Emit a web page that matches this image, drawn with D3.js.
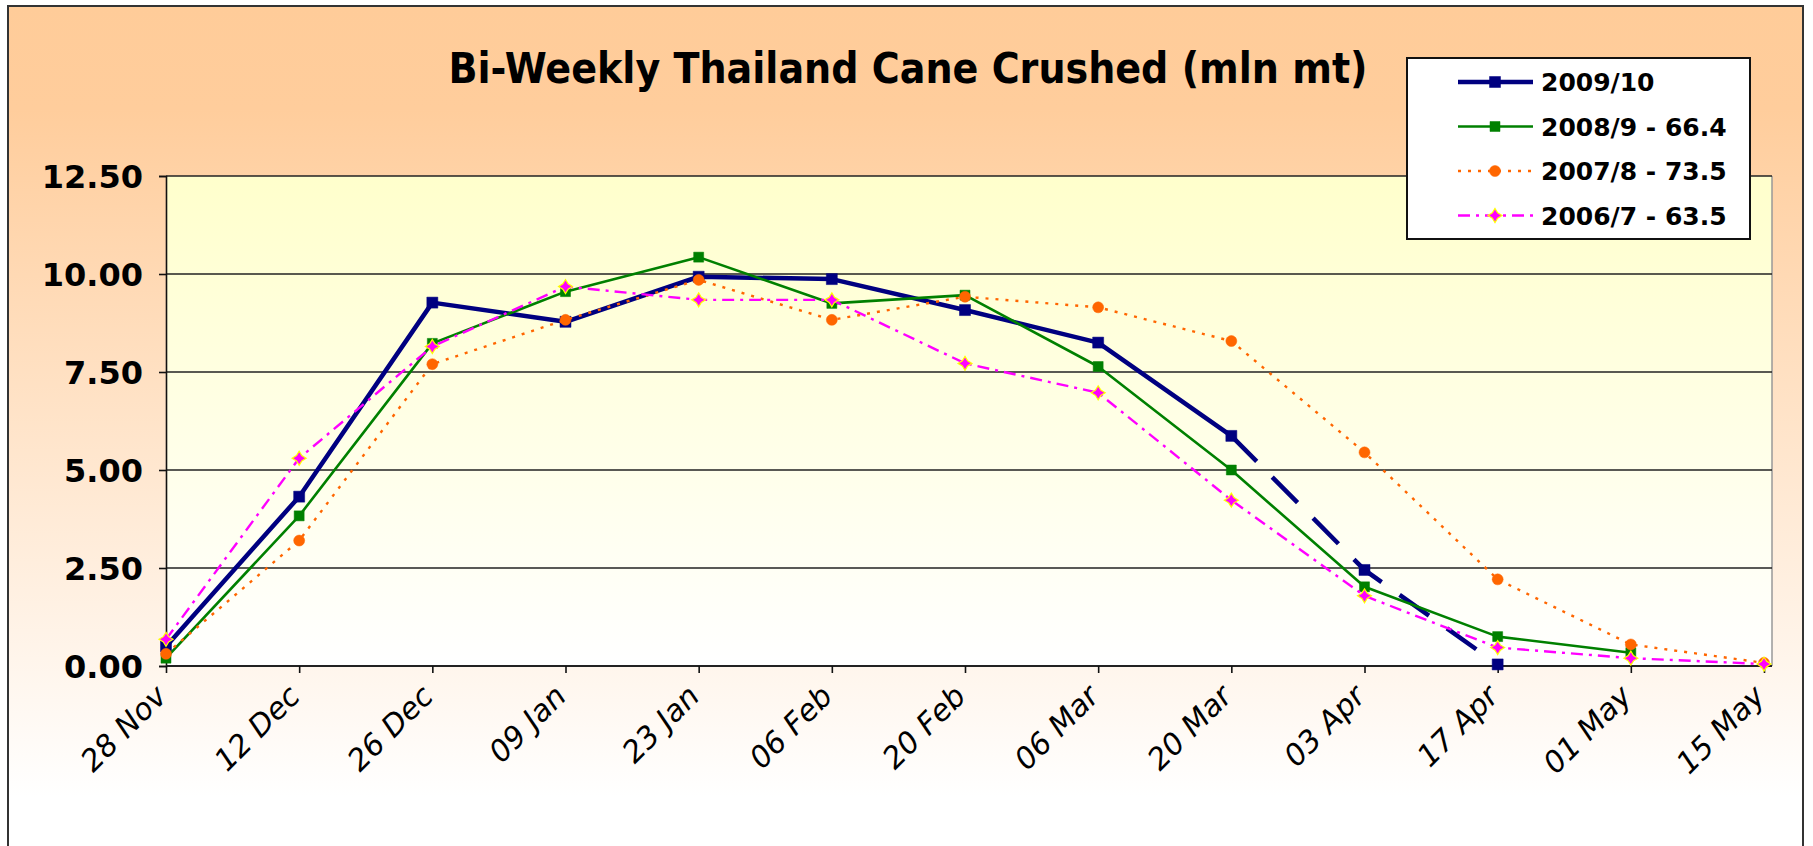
<!DOCTYPE html>
<html>
<head>
<meta charset="utf-8">
<script src="https://cdn.jsdelivr.net/npm/d3@7"></script>
<style>
	body { margin: 0; background: #fff; }
	svg { display: block; }
</style>
</head>
<body>
<svg id="chart" width="1813" height="846" viewBox="0 0 1813 846"></svg>
<script>

// values (mln mt, bi-weekly)
const CATEGORIES = ['28 Nov', '12 Dec', '26 Dec', '09 Jan', '23 Jan', '06 Feb', '20 Feb',
	'06 Mar', '20 Mar', '03 Apr', '17 Apr', '01 May', '15 May'];
const Y_TICKS = [0, 2.5, 5, 7.5, 10, 12.5];

const S_2009 = [0.50, 4.32, 9.27, 8.78, 9.93, 9.87, 9.08, 8.25, 5.87, 2.45, 0.04, null, null];
const S_2008 = [0.20, 3.83, 8.23, 9.55, 10.43, 9.25, 9.46, 7.64, 5.00, 2.02, 0.75, 0.34, null];
const S_2007 = [0.31, 3.20, 7.70, 8.83, 9.85, 8.83, 9.42, 9.15, 8.29, 5.45, 2.21, 0.55, 0.08];
const S_2006 = [0.68, 5.30, 8.15, 9.68, 9.34, 9.34, 7.72, 6.97, 4.23, 1.79, 0.47, 0.20, 0.05];

const SERIES_NAMES = ['2009/10', '2008/9 - 66.4', '2007/8 - 73.5', '2006/7 - 63.5'];
// 2009/10 turns into a dashed (estimate) line from this week on
const ESTIMATE_FROM = '20 Mar';

const TITLE = 'Bi-Weekly Thailand Cane Crushed (mln mt)';

// 4 pointed star, like the excel marker
const symbolStar4 = {
	draw(context, size) {
		const r = Math.sqrt(size) / 2;
		const k = r * 0.38;
		context.moveTo(0, -r);
		context.lineTo(k, -k);
		context.lineTo(r, 0);
		context.lineTo(k, k);
		context.lineTo(0, r);
		context.lineTo(-k, k);
		context.lineTo(-r, 0);
		context.lineTo(-k, -k);
		context.closePath();
	}
};

function whenDocumentLoaded(action) {
	if (document.readyState === "loading") {
		document.addEventListener("DOMContentLoaded", action);
	} else {
		action();
	}
}

class CanePlot {

	constructor(svg_element_id) {
		this.svg = d3.select('#' + svg_element_id);

		const plot = {left: 166, right: 1772, top: 176, bottom: 666};
		const last_x = 1764; // last category sits a little inside the plot box

		const defs = this.svg.append('defs');
		const bg = defs.append('linearGradient').attr('id', 'bg_grad')
			.attr('x1', 0).attr('y1', 0).attr('x2', 0).attr('y2', 1);
		bg.append('stop').attr('offset', '0%').attr('stop-color', '#FFCC99');
		bg.append('stop').attr('offset', '12%').attr('stop-color', '#FFCD9C');
		bg.append('stop').attr('offset', '92%').attr('stop-color', '#FFFFFF');
		const pg = defs.append('linearGradient').attr('id', 'plot_grad')
			.attr('x1', 0).attr('y1', 0).attr('x2', 0).attr('y2', 1);
		pg.append('stop').attr('offset', '0%').attr('stop-color', '#FFFFCC');
		pg.append('stop').attr('offset', '100%').attr('stop-color', '#FFFFFF');

		// chart area
		this.svg.append('rect')
			.attr('x', 8).attr('y', 6)
			.attr('width', 1795).attr('height', 860)
			.attr('fill', 'url(#bg_grad)')
			.attr('stroke', '#333').attr('stroke-width', 2);

		// plot area
		this.svg.append('rect')
			.attr('x', plot.left).attr('y', plot.top)
			.attr('width', plot.right - plot.left).attr('height', plot.bottom - plot.top)
			.attr('fill', 'url(#plot_grad)');
		this.svg.append('line')
			.attr('x1', plot.right).attr('x2', plot.right)
			.attr('y1', plot.top).attr('y2', plot.bottom)
			.attr('stroke', '#999').attr('stroke-width', 1.5);

		const x = d3.scalePoint()
			.domain(CATEGORIES)
			.range([plot.left, last_x]);

		const y = d3.scaleLinear()
			.domain([0, 12.5])
			.range([plot.bottom, plot.top]);

		// horizontal gridlines
		this.svg.append('g')
			.selectAll('line')
			.data(Y_TICKS.filter(d => d > 0))
			.enter()
				.append('line')
				.attr('x1', plot.left).attr('x2', plot.right)
				.attr('y1', d => y(d)).attr('y2', d => y(d))
				.attr('stroke', '#222').attr('stroke-width', 1.6);

		// y axis
		const y_axis = this.svg.append('g')
			.attr('transform', `translate(${plot.left},0)`)
			.call(d3.axisLeft(y).tickValues(Y_TICKS).tickFormat(d3.format('.2f')).tickSizeOuter(0).tickSize(7).tickPadding(16));
		y_axis.select('.domain').attr('stroke', '#111').attr('stroke-width', 1.6);
		y_axis.selectAll('.tick line').attr('stroke', '#111').attr('stroke-width', 1.6);
		y_axis.selectAll('text')
			.attr('fill', '#000')
			.style('font-family', '"DejaVu Sans", Verdana, sans-serif')
			.style('font-weight', 'bold')
			.style('font-size', '32px')
			.attr('dy', '0.36em');

		// x axis
		const x_axis = this.svg.append('g')
			.attr('transform', `translate(0,${plot.bottom})`)
			.call(d3.axisBottom(x).tickSizeOuter(0).tickSize(7));
		x_axis.select('.domain')
			.attr('d', `M${plot.left},0H${plot.right}`)
			.attr('stroke', '#222').attr('stroke-width', 2.2);
		x_axis.selectAll('.tick line').attr('stroke', '#111').attr('stroke-width', 1.6);
		x_axis.selectAll('text')
			.attr('fill', '#000')
			.attr('text-anchor', 'end')
			.attr('x', 0).attr('y', 0).attr('dy', 0)
			.attr('transform', 'translate(2,32) rotate(-45)')
			.style('font-family', '"DejaVu Sans", Verdana, sans-serif')
			.style('font-style', 'italic')
			.style('font-size', '30px');

		// series
		const est_index = CATEGORIES.indexOf(ESTIMATE_FROM);
		const series = [
			{name: SERIES_NAMES[0], values: S_2009, color: '#000080', width: 4.5, dash: null, marker: 'square', size: 11},
			{name: SERIES_NAMES[1], values: S_2008, color: '#008000', width: 2.6, dash: null, marker: 'square', size: 10},
			{name: SERIES_NAMES[2], values: S_2007, color: '#FF6600', width: 2.4, dash: '3,7', marker: 'circle', size: 11},
			{name: SERIES_NAMES[3], values: S_2006, color: '#FF00FF', width: 2.4, dash: '12,6,3,6', marker: 'star', size: 14}
		];

		const line_gen = d3.line()
			.defined(d => d.v !== null)
			.x(d => x(d.c))
			.y(d => y(d.v));

		const symbol_of = function(s) {
			if (s.marker === 'square') return d3.symbol().type(d3.symbolSquare).size(s.size * s.size);
			if (s.marker === 'circle') return d3.symbol().type(d3.symbolCircle).size(Math.PI * s.size * s.size / 4);
			return d3.symbol().type(symbolStar4).size(s.size * s.size);
		};

		series.forEach((s, si) => {
			const pts = s.values.map((v, i) => ({c: CATEGORIES[i], v: v, i: i}));
			const g = this.svg.append('g').classed('series', true);

			if (si === 0) {
				g.append('path')
					.attr('d', line_gen(pts.filter(p => p.i <= est_index)))
					.attr('fill', 'none').attr('stroke', s.color).attr('stroke-width', s.width)
					.attr('stroke-linejoin', 'round');
				g.append('path')
					.attr('d', line_gen(pts.filter(p => p.i >= est_index)))
					.attr('fill', 'none').attr('stroke', s.color).attr('stroke-width', s.width)
					.attr('stroke-dasharray', '36,22');
			} else {
				g.append('path')
					.attr('d', line_gen(pts))
					.attr('fill', 'none').attr('stroke', s.color).attr('stroke-width', s.width)
					.attr('stroke-dasharray', s.dash)
					.attr('stroke-linejoin', 'round');
			}

			const sym = symbol_of(s);
			g.selectAll('path.marker')
				.data(pts.filter(p => p.v !== null))
				.enter()
					.append('path')
					.classed('marker', true)
					.attr('d', sym)
					.attr('transform', p => `translate(${x(p.c)},${y(p.v)})`)
					.attr('fill', s.color)
					.attr('stroke', s.marker === 'star' ? '#FFFF00' : s.color)
					.attr('stroke-width', s.marker === 'star' ? 1.2 : 0.5);
		});

		// title
		this.svg.append('text')
			.attr('x', 908).attr('y', 83)
			.attr('text-anchor', 'middle')
			.attr('textLength', 919)
			.attr('lengthAdjust', 'spacingAndGlyphs')
			.style('font-family', '"DejaVu Sans", Verdana, sans-serif')
			.style('font-weight', 'bold')
			.style('font-size', '42px')
			.text(TITLE);

		// legend
		const legend = this.svg.append('g').attr('transform', 'translate(1407,58)');
		legend.append('rect')
			.attr('width', 343).attr('height', 181)
			.attr('fill', '#fff').attr('stroke', '#111').attr('stroke-width', 2);
		const rows = legend.selectAll('g.row')
			.data(series)
			.enter()
				.append('g')
				.classed('row', true)
				.attr('transform', (d, i) => `translate(0,${24 + i * 44.5})`);
		rows.append('line')
			.attr('x1', 51).attr('x2', 126)
			.attr('stroke', d => d.color)
			.attr('stroke-width', d => d.width)
			.attr('stroke-dasharray', d => d.dash);
		rows.append('path')
			.attr('d', d => symbol_of(d)())
			.attr('transform', 'translate(88,0)')
			.attr('fill', d => d.color)
			.attr('stroke', d => d.marker === 'star' ? '#FFFF00' : d.color)
			.attr('stroke-width', d => d.marker === 'star' ? 1.2 : 0.5);
		rows.append('text')
			.attr('x', 134).attr('dy', '0.36em')
			.style('font-family', '"DejaVu Sans", Verdana, sans-serif')
			.style('font-weight', 'bold')
			.style('font-size', '25px')
			.text(d => d.name);
	}
}

whenDocumentLoaded(() => {
	plot_object = new CanePlot('chart');
});

</script>
</body>
</html>
